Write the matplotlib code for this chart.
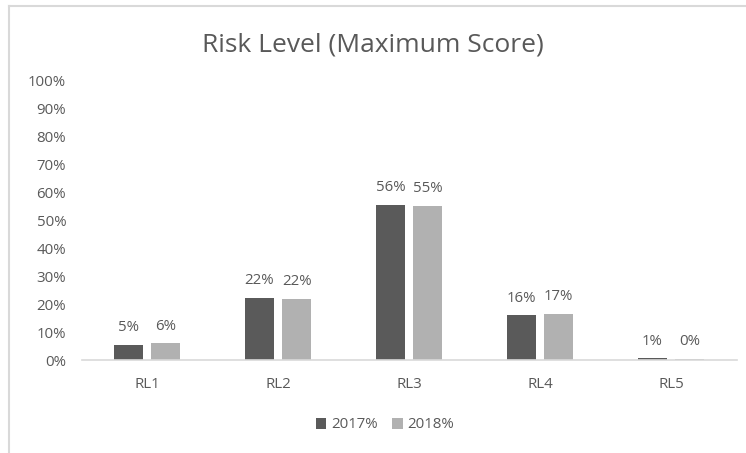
import numpy as np
import matplotlib.pyplot as plt
from matplotlib.lines import Line2D

# --- data ---
categories = ["RL1", "RL2", "RL3", "RL4", "RL5"]
pct_2017 = [5.5, 22.3, 55.7, 16.0, 0.6]
pct_2018 = [6.0, 22.0, 55.3, 16.6, 0.4]
labels_2017 = ["5%", "22%", "56%", "16%", "1%"]
labels_2018 = ["6%", "22%", "55%", "17%", "0%"]
yticks = list(range(0, 101, 10))

plt.rcParams['font.family'] = ['Open Sans', 'DejaVu Sans']
text_col = "#595959"
dark = "#5a5a5a"
light = "#b1b1b1"
fs = 10.8

fig = plt.figure(figsize=(7.46, 4.53), dpi=100)
ax = fig.add_axes([81.5 / 746, 1 - 360 / 453, 655 / 746, 279 / 453])

x = np.arange(len(categories))
w = 0.225
gap = 0.06
b1 = ax.bar(x - (w + gap) / 2, pct_2017, width=w, color=dark, label="2017%")
b2 = ax.bar(x + (w + gap) / 2, pct_2018, width=w, color=light, label="2018%")

for bars, labs in ((b1, labels_2017), (b2, labels_2018)):
    for rect, lab in zip(bars, labs):
        ax.annotate(lab, (rect.get_x() + rect.get_width() / 2, rect.get_height()),
                    xytext=(0, 7), textcoords="offset points", ha="center", va="bottom",
                    fontsize=fs, color=text_col)

ax.set_xlim(-0.5, len(categories) - 0.5)
ax.set_ylim(0, 100)
ax.set_yticks(yticks)
ax.set_yticklabels([f"{t}%" for t in yticks])
ax.set_xticks(x)
ax.set_xticklabels(categories)
ax.tick_params(axis="both", length=0, labelsize=fs, labelcolor=text_col)
ax.tick_params(axis="x", pad=12)
ax.tick_params(axis="y", pad=11)
for s in ("top", "right", "left"):
    ax.spines[s].set_visible(False)
ax.spines["bottom"].set_color("#d9d9d9")
ax.spines["bottom"].set_linewidth(1.2)

fig.text(0.5, 1 - 45 / 453, "Risk Level (Maximum Score)", ha="center", va="center",
         fontsize=19, color=text_col)

fig.legend(handles=[b1, b2], loc="center", bbox_to_anchor=(385 / 746, 1 - 425 / 453),
           ncol=2, frameon=False, fontsize=fs, labelcolor=text_col,
           handlelength=0.7, handleheight=0.7, handletextpad=0.3, columnspacing=1.0)

# chart-area frame (top and left edges visible)
fig.add_artist(Line2D([8.5 / 746, 1], [1 - 5.5 / 453, 1 - 5.5 / 453],
                      transform=fig.transFigure, color="#d9d9d9", lw=1.5))
fig.add_artist(Line2D([8.5 / 746, 8.5 / 746], [0, 1 - 5.5 / 453],
                      transform=fig.transFigure, color="#d9d9d9", lw=1.5))

fig.savefig("out.png", dpi=100)
